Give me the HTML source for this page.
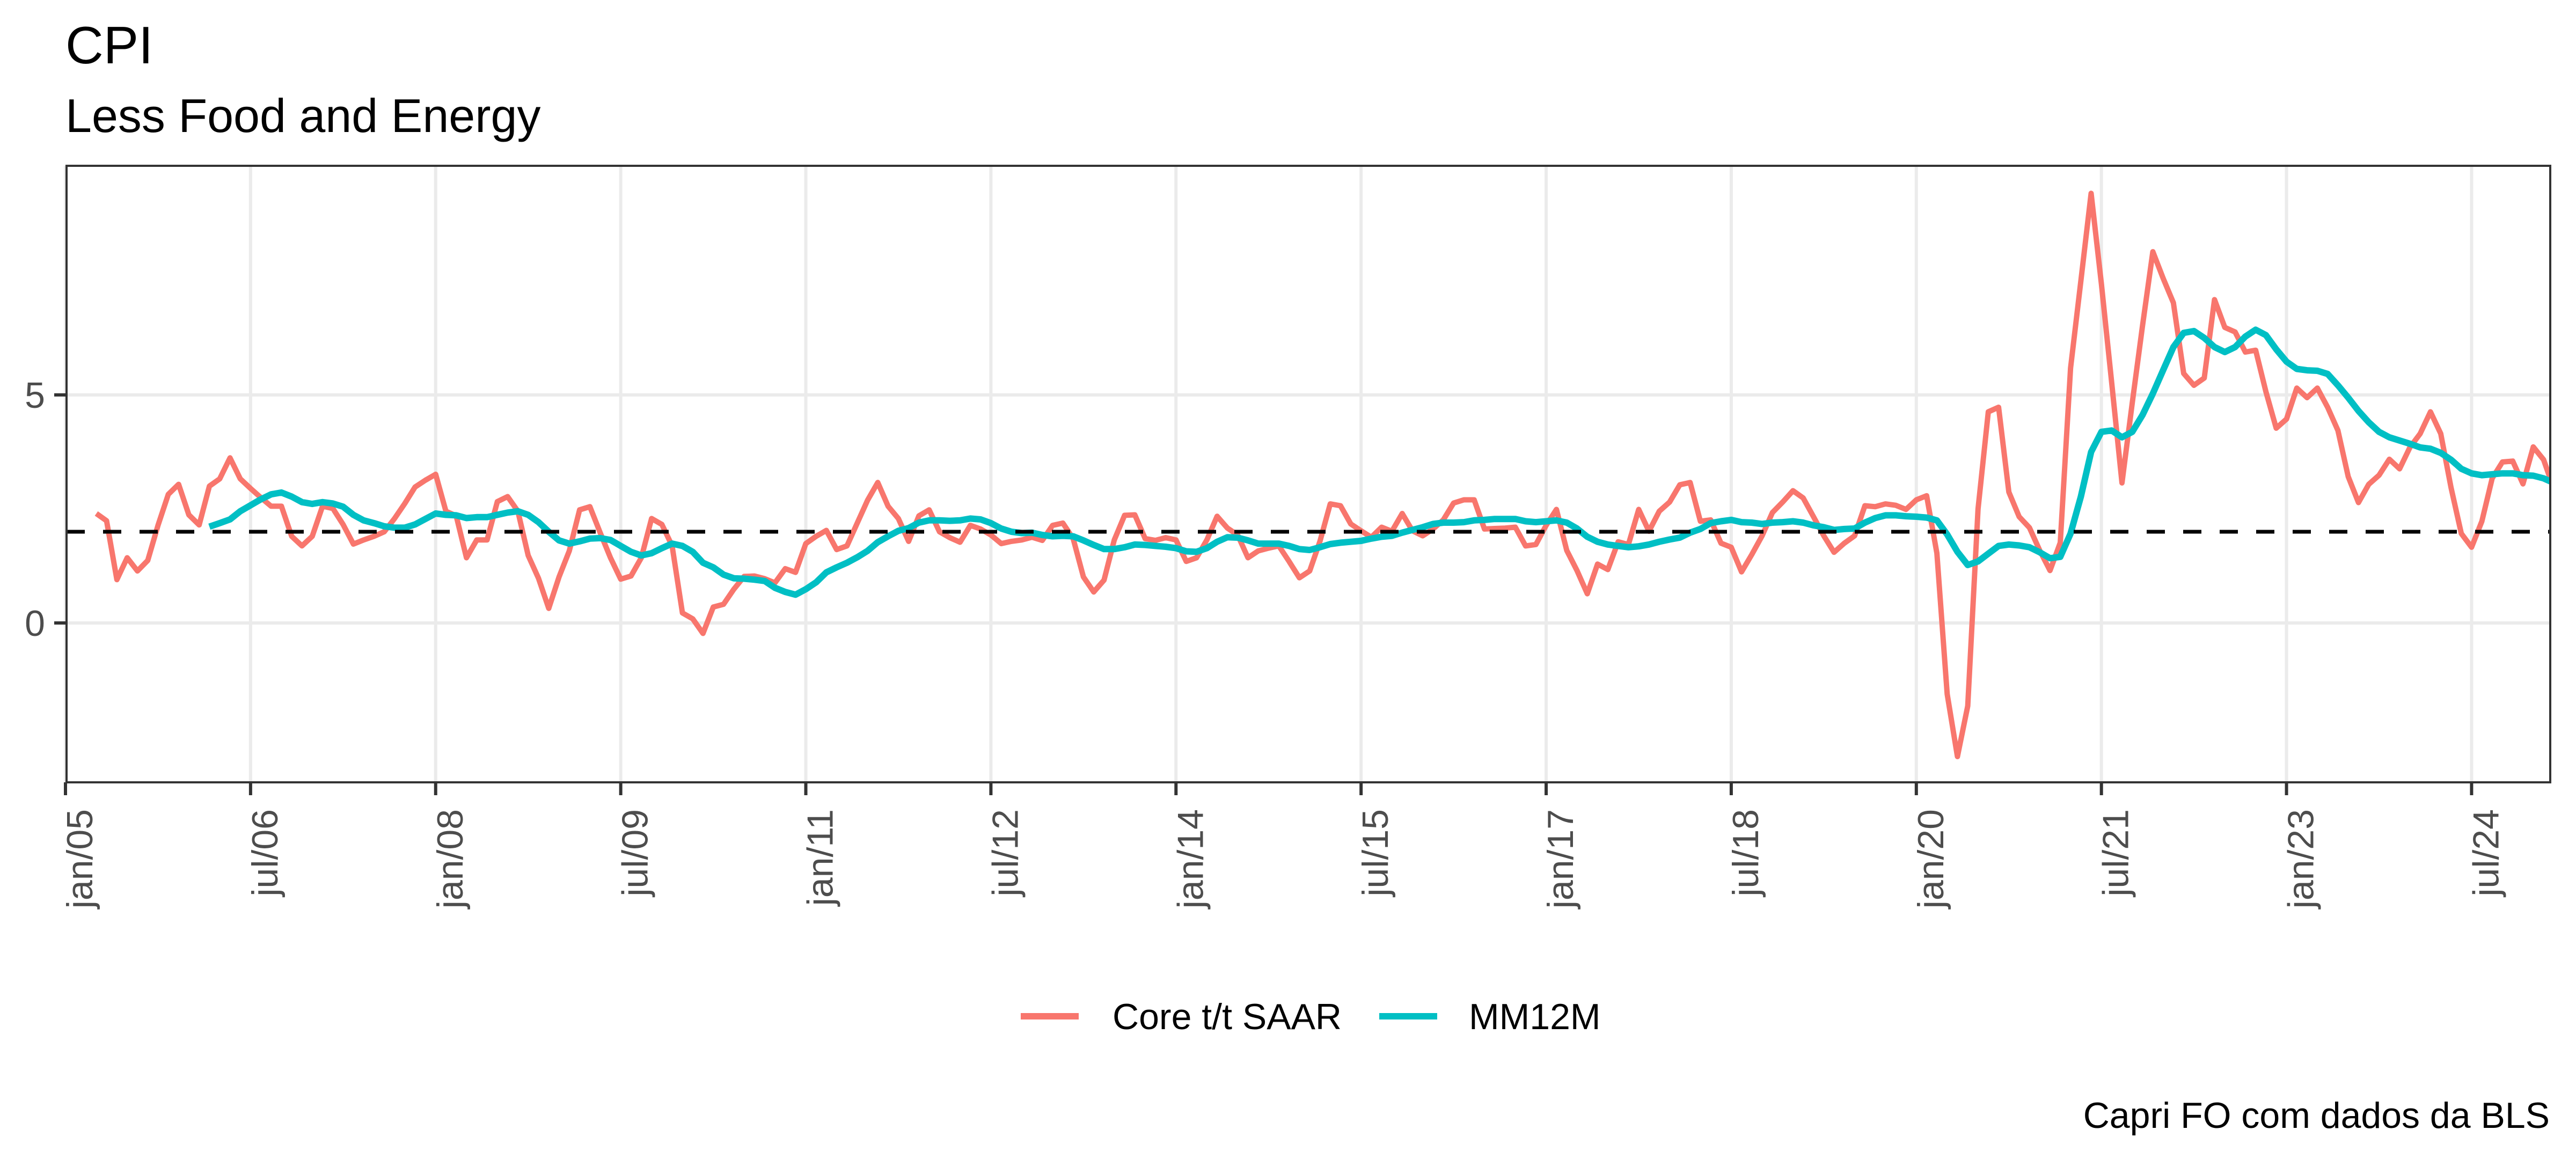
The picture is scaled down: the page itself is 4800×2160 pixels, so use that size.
<!DOCTYPE html>
<html><head><meta charset="utf-8"><style>
html,body{margin:0;padding:0;background:#fff;}
svg{display:block;font-family:"Liberation Sans",Arial,sans-serif;}
</style></head><body>
<svg id="chart" width="4800" height="2160" viewBox="0 0 4800 2160" xmlns="http://www.w3.org/2000/svg">
<rect x="0" y="0" width="4800" height="2160" fill="#fff"/>
<text x="122" y="118" font-size="98" fill="#000">CPI</text>
<text x="122" y="246" font-size="88" fill="#000">Less Food and Energy</text>
<defs><clipPath id="pc"><rect x="124" y="309" width="4628" height="1149"/></clipPath></defs>
<g id="grid"></g>
<g id="series" clip-path="url(#pc)"></g>
<rect x="124" y="309" width="4628" height="1149" fill="none" stroke="#333" stroke-width="4"/>
<g id="axes"></g>
<g>
<line x1="1902" y1="1894" x2="2010" y2="1894" stroke="#F8766D" stroke-width="12"/>
<text x="2073" y="1918" font-size="68" fill="#000">Core t/t SAAR</text>
<line x1="2570" y1="1894" x2="2678" y2="1894" stroke="#00BFC4" stroke-width="12"/>
<text x="2737" y="1918" font-size="68" fill="#000">MM12M</text>
</g>
<text x="4751" y="2102" font-size="68" text-anchor="end" fill="#000">Capri FO com dados da BLS</text>
</svg>
<script>
const startMonth = 3; // months since jan/2005 (apr/2005)
const coreValues = [2.40,2.24,0.95,1.43,1.14,1.37,2.14,2.82,3.04,2.37,2.15,3.00,3.16,3.62,3.16,2.95,2.75,2.56,2.56,1.90,1.69,1.90,2.56,2.51,2.16,1.73,1.82,1.90,2.00,2.29,2.62,2.98,3.13,3.26,2.45,2.35,1.43,1.82,1.82,2.66,2.77,2.45,1.48,0.98,0.32,1.01,1.58,2.48,2.55,1.98,1.43,0.96,1.03,1.43,2.29,2.16,1.69,0.22,0.09,-0.23,
0.35,0.41,0.74,1.02,1.03,0.97,0.88,1.19,1.11,1.74,1.90,2.03,1.61,1.69,2.19,2.69,3.08,2.56,2.29,1.79,2.35,2.48,2.00,1.87,1.77,2.14,2.06,1.93,1.74,1.79,1.82,1.88,1.81,2.14,2.19,1.85,1.01,0.68,0.94,1.82,2.36,2.37,1.85,1.81,1.87,1.82,1.35,1.43,1.82,2.34,2.08,1.93,1.43,1.58,1.64,1.69,1.35,0.99,1.14,1.79,2.61,2.57,
2.17,2.02,1.88,2.10,2.01,2.40,2.02,1.91,2.06,2.26,2.63,2.70,2.70,2.06,2.07,2.08,2.10,1.69,1.72,2.14,2.49,1.59,1.15,0.64,1.29,1.17,1.78,1.72,2.49,2.01,2.45,2.65,3.03,3.08,2.23,2.26,1.75,1.66,1.12,1.50,1.91,2.42,2.65,2.90,2.74,2.33,1.91,1.55,1.75,1.91,2.57,2.55,2.61,2.58,2.49,2.70,2.79,1.53,-1.56,-2.93,-1.82,
2.50,4.63,4.73,2.87,2.33,2.09,1.59,1.15,1.76,5.59,7.50,9.42,7.43,5.27,3.07,4.83,6.52,8.14,7.56,7.02,5.47,5.21,5.37,7.09,6.48,6.38,5.94,5.98,5.07,4.27,4.47,5.15,4.94,5.15,4.73,4.22,3.21,2.64,3.04,3.24,3.59,3.38,3.85,4.15,4.63,4.15,2.97,1.96,1.66,2.23,3.17,3.53,3.55,3.05,3.86,3.58,2.94];
const mmStartMonth = 14;
const mmValues = [2.11,2.19,2.27,2.45,2.58,2.71,2.82,2.86,2.77,2.65,2.61,2.65,2.62,2.55,2.37,2.25,2.19,2.12,2.09,2.09,2.16,2.28,2.40,2.37,2.36,2.30,2.32,2.32,2.37,2.42,2.45,2.37,2.21,2.00,1.81,1.74,1.79,1.85,1.86,1.82,1.69,1.56,1.48,1.53,1.64,1.74,1.69,1.56,1.32,
1.22,1.06,0.98,0.97,0.95,0.92,0.77,0.68,0.62,0.74,0.89,1.11,1.22,1.32,1.44,1.58,1.77,1.90,2.02,2.08,2.20,2.25,2.25,2.24,2.25,2.29,2.27,2.19,2.07,2.00,1.97,1.98,1.93,1.90,1.91,1.90,1.81,1.71,1.62,1.62,1.66,1.72,1.71,1.69,1.67,1.64,1.57,1.56,1.64,1.78,1.88,1.87,1.81,1.74,1.74,1.74,1.69,1.62,1.60,1.66,1.73,1.76,
1.78,1.80,1.85,1.89,1.91,1.98,2.04,2.10,2.17,2.20,2.20,2.21,2.25,2.26,2.28,2.28,2.28,2.23,2.21,2.23,2.25,2.20,2.07,1.89,1.78,1.72,1.69,1.66,1.68,1.72,1.78,1.83,1.87,1.98,2.06,2.19,2.23,2.26,2.21,2.20,2.17,2.20,2.21,2.23,2.20,2.14,2.10,2.04,2.06,2.07,2.20,2.30,2.36,2.36,2.34,2.33,2.31,2.25,1.94,1.56,1.27,
1.35,1.52,1.69,1.72,1.70,1.66,1.55,1.42,1.45,1.96,2.77,3.75,4.19,4.22,4.07,4.19,4.56,5.03,5.54,6.05,6.36,6.40,6.25,6.05,5.94,6.05,6.28,6.43,6.31,6.00,5.73,5.57,5.54,5.53,5.46,5.21,4.94,4.65,4.40,4.19,4.07,4.00,3.93,3.85,3.82,3.73,3.58,3.38,3.28,3.24,3.26,3.28,3.28,3.24,3.23,3.17,3.07];
const xTickMonths = [0,18,36,54,72,90,108,126,144,162,180,198,216,234];
const xTickLabels = ["jan/05","jul/06","jan/08","jul/09","jan/11","jul/12","jan/14","jul/15","jan/17","jul/18","jan/20","jul/21","jan/23","jul/24"];
const yTicks = [0,5];
const yTickLabels = ["0","5"];
const targetValue = [2];

const NS = "http://www.w3.org/2000/svg";
const X0 = 122, MPX = 19.16, Y0 = 1161, UPX = 85;
const PL = 124, PR = 4752, PT = 309, PB = 1458;
function xs(m){ return X0 + m*MPX; }
function ys(v){ return Y0 - v*UPX; }
function mk(tag, attrs, parent){ const e = document.createElementNS(NS, tag); for (const k in attrs) e.setAttribute(k, attrs[k]); parent.appendChild(e); return e; }

const grid = document.getElementById('grid');
const axes = document.getElementById('axes');
const series = document.getElementById('series');

mk('rect', {x:PL, y:PT, width:PR-PL, height:PB-PT, fill:'#fff'}, grid);
yTicks.forEach((v,i)=>{
  const g = mk('line', {x1:PL, x2:PR, y1:ys(v), y2:ys(v), stroke:'#EBEBEB', 'stroke-width':6}, grid);
  
  
  const t = mk('line', {x1:101, x2:PL, y1:ys(v), y2:ys(v), stroke:'#333', 'stroke-width':6}, axes);
  
  
  const l = mk('text', {x:84, y:ys(v)+24, 'font-size':68, 'text-anchor':'end', fill:'#4D4D4D'}, axes);
  l.textContent = yTickLabels[i];
  
  
});
xTickMonths.forEach((m,i)=>{
  const x = xs(m);
  const g = mk('line', {x1:x, x2:x, y1:PT, y2:PB, stroke:'#EBEBEB', 'stroke-width':6}, grid);
  
  
  const t = mk('line', {x1:x, x2:x, y1:PB, y2:PB+24, stroke:'#333', 'stroke-width':6}, axes);
  
  
  const l = mk('text', {x:x+50, y:1508, 'font-size':68, 'text-anchor':'end', fill:'#4D4D4D', transform:'rotate(-90 '+(x+50)+' 1508)'}, axes);
  l.textContent = xTickLabels[i];
  
  
});

function pathFor(start, vals){
  return vals.map((v,i)=>(i?'L':'M')+xs(start+i).toFixed(1)+','+ys(v).toFixed(1)).join(' ');
}
const core = mk('path', {d:pathFor(startMonth, coreValues), fill:'none', stroke:'#F8766D', 'stroke-width':10, 'stroke-linejoin':'round'}, series);


const mm = mk('path', {d:pathFor(mmStartMonth, mmValues), fill:'none', stroke:'#00BFC4', 'stroke-width':12, 'stroke-linejoin':'round'}, series);


const ref = mk('line', {x1:PL, x2:PR, y1:ys(targetValue[0]), y2:ys(targetValue[0]), stroke:'#000', 'stroke-width':7, 'stroke-dasharray':'34 34'}, series);


</script>
</body></html>
